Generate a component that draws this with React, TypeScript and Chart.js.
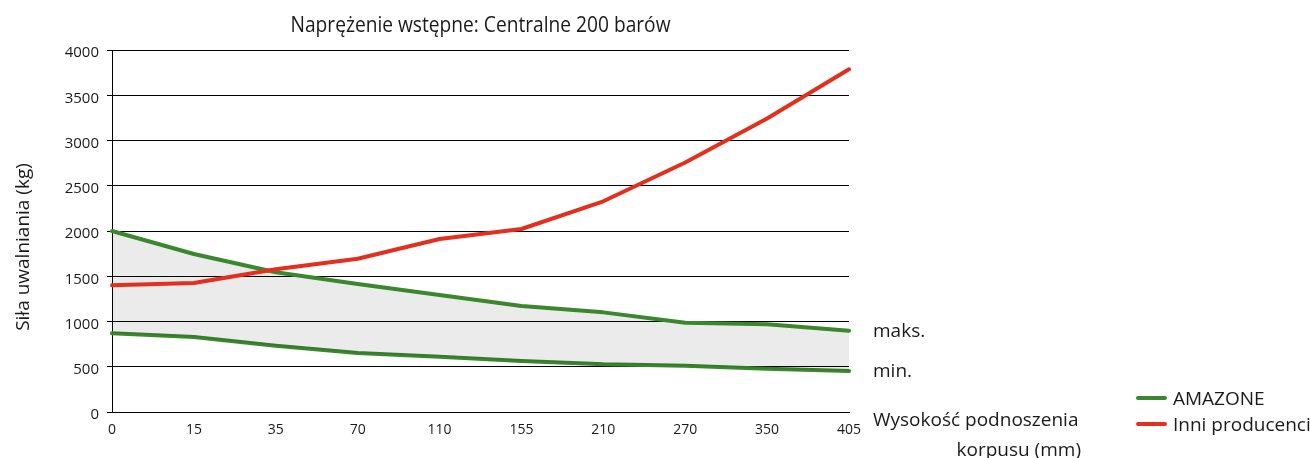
import React, { useEffect, useRef } from 'react';
import { Chart, registerables } from 'chart.js';

Chart.register(...registerables);

const categories = ['0', '15', '35', '70', '110', '155', '210', '270', '350', '405'];
const amazoneMax = [2000, 1746, 1545, 1414, 1293, 1171, 1101, 987, 969, 899];
const amazoneMin = [870, 829, 733, 652, 611, 563, 527, 512, 479, 453];
const otherMakers = [1400, 1425, 1577, 1694, 1912, 2022, 2328, 2757, 3243, 3787];

const yMin = 0;
const yMax = 4000;
const yStep = 500;

const chartTitle = 'Naprężenie wstępne: Centralne 200 barów';
const yAxisTitle = 'Siła uwalniania (kg)';
const xAxisTitle = ['Wysokość podnoszenia', 'korpusu (mm)'];
const maxLabel = 'maks.';
const minLabel = 'min.';
const legendNames = ['AMAZONE', 'Inni producenci'];

const GREEN = 'rgb(58,135,46)';
const RED = 'rgb(227,48,30)';
const TEXT = '#1a1a1a';
const SANS = '"Open Sans", "Noto Sans", sans-serif';

const decorPlugin = {
  id: 'decor',
  afterDraw(chart: any) {
    const { ctx, chartArea } = chart;
    const y = chart.scales.y;
    ctx.save();
    ctx.fillStyle = TEXT;

    // title (condensed to the reference width)
    ctx.save();
    ctx.font = `22px ${SANS}`;
    ctx.textAlign = 'center';
    ctx.textBaseline = 'alphabetic';
    const w = ctx.measureText(chartTitle).width;
    const sx = Math.min(1, 380 / w);
    ctx.translate((chartArea.left + chartArea.right) / 2, 32);
    ctx.scale(sx, 1);
    ctx.fillText(chartTitle, 0, 0);
    ctx.restore();

    // y axis title
    ctx.save();
    ctx.translate(29, 247);
    ctx.rotate(-Math.PI / 2);
    ctx.font = `19px ${SANS}`;
    ctx.textAlign = 'center';
    ctx.textBaseline = 'alphabetic';
    ctx.fillText(yAxisTitle, 0, 0);
    ctx.restore();

    // maks / min labels
    const lx = chartArea.right + 24;
    ctx.font = `19px ${SANS}`;
    ctx.textAlign = 'left';
    ctx.textBaseline = 'alphabetic';
    ctx.fillText(maxLabel, lx, y.getPixelForValue(amazoneMax[amazoneMax.length - 1]) + 6.5);
    ctx.fillText(minLabel, lx, y.getPixelForValue(amazoneMin[amazoneMin.length - 1]) + 5.5);

    // x axis title
    ctx.fillText(xAxisTitle[0], lx, 426);
    ctx.textAlign = 'right';
    ctx.fillText(xAxisTitle[1], 1081, 456);

    // legend
    const colors = [GREEN, RED];
    const rows = [398, 424];
    ctx.textAlign = 'left';
    legendNames.forEach((name, i) => {
      ctx.strokeStyle = colors[i];
      ctx.lineWidth = 4;
      ctx.lineCap = 'round';
      ctx.beginPath();
      ctx.moveTo(1138, rows[i]);
      ctx.lineTo(1165, rows[i]);
      ctx.stroke();
      ctx.fillStyle = TEXT;
      ctx.fillText(name, 1173, rows[i] + 6.5);
    });
    ctx.restore();
  },
};

export default function App() {
  const ref = useRef<HTMLCanvasElement | null>(null);

  useEffect(() => {
    document.body.style.margin = '0';
    const canvas = ref.current;
    if (!canvas) return;
    const chart = new Chart(canvas, {
      type: 'line',
      data: {
        labels: categories,
        datasets: [
          {
            label: legendNames[1],
            data: otherMakers,
            borderColor: RED,
            borderWidth: 4,
            pointRadius: 0,
            fill: false,
            tension: 0,
            borderCapStyle: 'round',
            borderJoinStyle: 'round',
          },
          {
            label: legendNames[0] + ' ' + maxLabel,
            data: amazoneMax,
            borderColor: GREEN,
            borderWidth: 4,
            pointRadius: 0,
            fill: '+1',
            backgroundColor: 'rgba(0,0,0,0.08)',
            tension: 0,
            borderCapStyle: 'round',
            borderJoinStyle: 'round',
          },
          {
            label: legendNames[0] + ' ' + minLabel,
            data: amazoneMin,
            borderColor: GREEN,
            borderWidth: 4,
            pointRadius: 0,
            fill: false,
            tension: 0,
            borderCapStyle: 'round',
            borderJoinStyle: 'round',
          },
        ],
      },
      options: {
        animation: false,
        responsive: true,
        maintainAspectRatio: false,
        layout: { padding: { top: 50, right: 461, bottom: 0, left: 0 } },
        plugins: {
          legend: { display: false },
          tooltip: { enabled: false },
          title: { display: false },
        },
        scales: {
          x: {
            type: 'category',
            offset: false,
            grid: { display: false, drawTicks: false },
            border: { display: true, color: '#000', width: 1 },
            ticks: {
              color: TEXT,
              font: { family: SANS, size: 14, style: 'condensed' as any },
              padding: 10,
              maxRotation: 0,
              autoSkip: false,
            },
            afterFit(scale: any) {
              scale.height = 46;
            },
          },
          y: {
            min: yMin,
            max: yMax,
            grid: { color: '#000', lineWidth: 1, drawTicks: true, tickLength: 5 },
            border: { display: true, color: '#000', width: 1 },
            ticks: {
              stepSize: yStep,
              color: TEXT,
              font: { family: SANS, size: 15 },
              padding: 8,
              labelOffset: 3,
              callback: (v: any) => String(v),
            },
            afterFit(scale: any) {
              scale.width = 112;
            },
          },
        },
      },
      plugins: [decorPlugin],
    });
    return () => chart.destroy();
  }, []);

  return (
    <div style={{ position: 'absolute', left: 0, top: 0, width: 1310, height: 458 }}>
      <canvas ref={ref} />
    </div>
  );
}
